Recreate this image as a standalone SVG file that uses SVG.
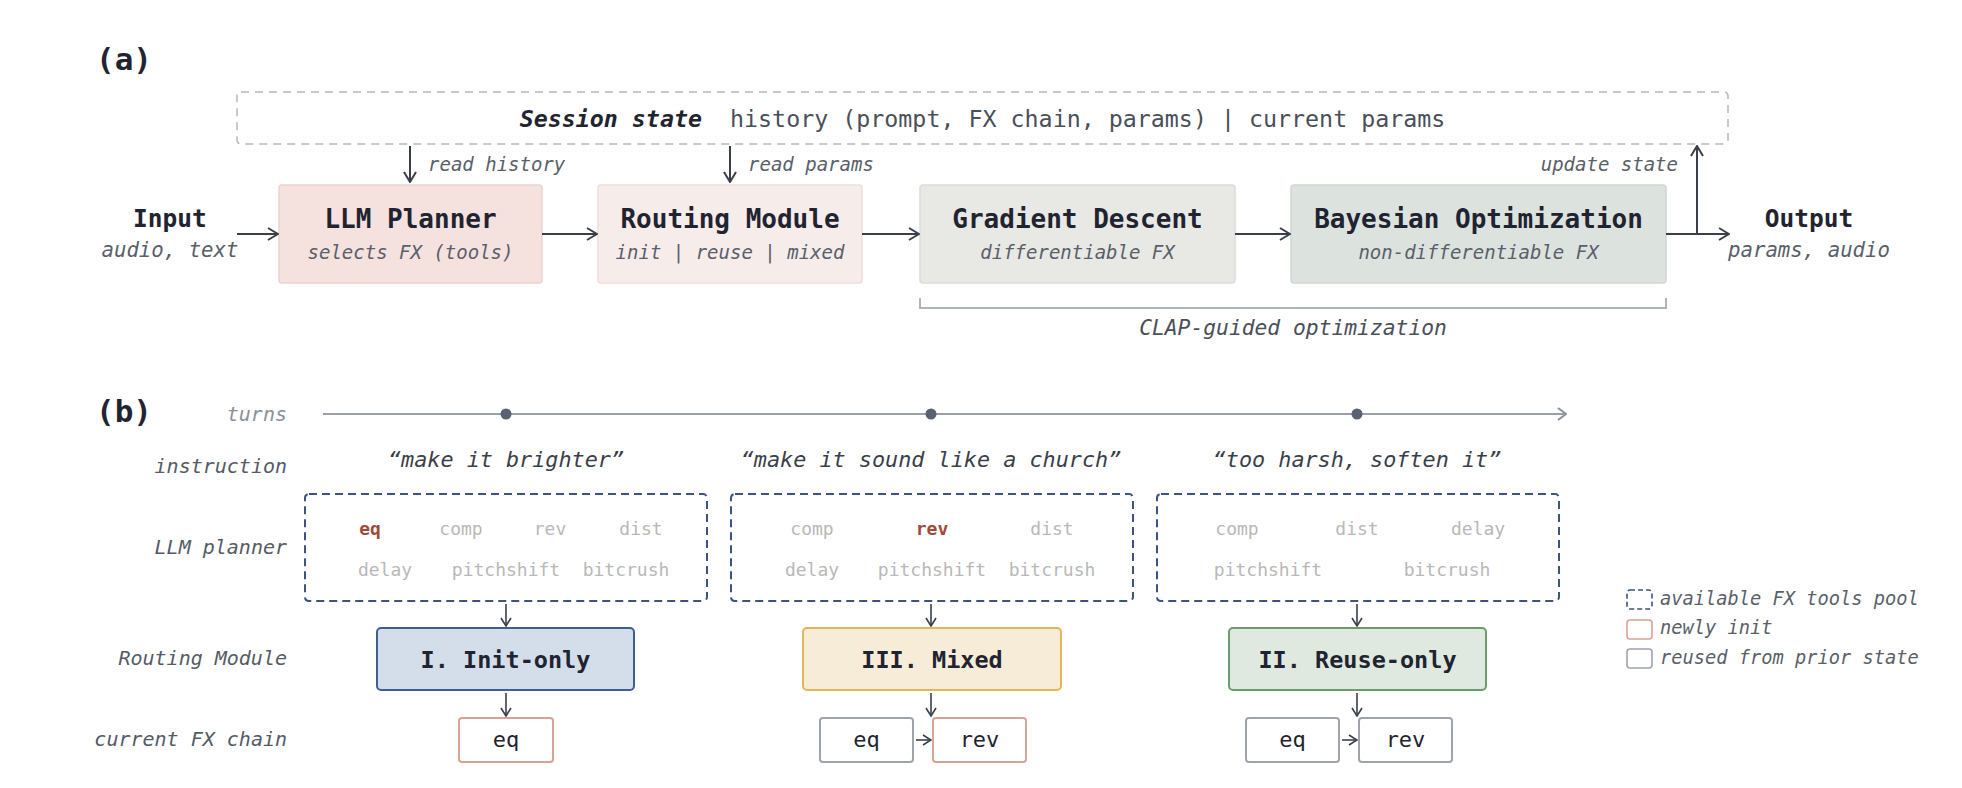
<svg xmlns="http://www.w3.org/2000/svg" width="1962" height="788" viewBox="0 0 1962 788">
<defs>
<style>
text{font-family:"DejaVu Sans Mono","Liberation Mono",monospace;}
.title{font-weight:bold;fill:#1f2430;}
.sub{font-style:italic;fill:#5a5f6a;}
.lbl{font-style:italic;fill:#555b66;font-size:20px;text-anchor:end;}
.conn{stroke:#3a3f4a;stroke-width:2;fill:none;}
.conns{stroke:#3a3f4a;stroke-width:1.6;fill:none;}
.tool{font-size:18px;fill:#b8b8b8;text-anchor:middle;}
.sel{font-size:18px;fill:#a04a3a;font-weight:bold;text-anchor:middle;}
.pool{fill:none;stroke:#3d5385;stroke-width:2;stroke-dasharray:8 5;}
.chain{fill:#fff;stroke-width:2;}
.newi{stroke:#d9a294;}
.reus{stroke:#9ea3ad;}
.ct{font-size:22px;fill:#1f2430;text-anchor:middle;}
.rt{font-size:23.5px;font-weight:bold;fill:#1f2430;text-anchor:middle;}
.panel{font-size:31px;font-weight:bold;fill:#1f2430;}
</style>
<marker id="ah" viewBox="0 0 12 14" refX="11" refY="7" markerWidth="12" markerHeight="14" markerUnits="userSpaceOnUse" orient="auto">
<path d="M1,1 L11,7 L1,13" fill="none" stroke="#3a3f4a" stroke-width="2"/>
</marker>
<marker id="ahs" viewBox="0 0 10 12" refX="9" refY="6" markerWidth="10" markerHeight="12" markerUnits="userSpaceOnUse" orient="auto">
<path d="M1,1 L9,6 L1,11" fill="none" stroke="#3a3f4a" stroke-width="1.6"/>
</marker>
<marker id="aht" viewBox="0 0 10 14" refX="9" refY="7" markerWidth="10" markerHeight="14" markerUnits="userSpaceOnUse" orient="auto">
<path d="M1,1 L9,7 L1,13" fill="none" stroke="#8a909c" stroke-width="2"/>
</marker>
</defs>
<rect width="1962" height="788" fill="#ffffff"/>

<!-- (a) -->
<text x="96" y="70" class="panel">(a)</text>

<g id="session">
<rect x="237" y="92" width="1491" height="52" rx="4" fill="none" stroke="#b8b8b8" stroke-width="1.5" stroke-dasharray="8 6"/>
<text x="982.5" y="127" font-size="23.3" text-anchor="middle" fill="#4a4f5a" xml:space="preserve"><tspan font-weight="bold" font-style="italic" fill="#1f2430">Session state</tspan>  history (prompt, FX chain, params) | current params</text>
</g>

<g id="input">
<text x="170" y="227" font-size="24.5" class="title" text-anchor="middle">Input</text>
<text x="170" y="257" font-size="20.7" class="sub" text-anchor="middle">audio, text</text>
</g>

<g id="llm-planner">
<rect x="279" y="185" width="263" height="98" rx="3" fill="#f5e2df" stroke="#ead3cf" stroke-width="1.5"/>
<text x="410.5" y="228" font-size="26" class="title" text-anchor="middle">LLM Planner</text>
<text x="410.5" y="259" font-size="19" class="sub" text-anchor="middle">selects FX (tools)</text>
</g>

<g id="routing-module">
<rect x="598" y="185" width="264" height="98" rx="3" fill="#f6ecea" stroke="#ebdfdc" stroke-width="1.5"/>
<text x="730" y="228" font-size="26" class="title" text-anchor="middle">Routing Module</text>
<text x="730" y="259" font-size="19" class="sub" text-anchor="middle">init | reuse | mixed</text>
</g>

<g id="gradient-descent">
<rect x="920" y="185" width="315" height="98" rx="3" fill="#e8e8e5" stroke="#dcdcd8" stroke-width="1.5"/>
<text x="1077.5" y="228" font-size="26" class="title" text-anchor="middle">Gradient Descent</text>
<text x="1077.5" y="259" font-size="19" class="sub" text-anchor="middle">differentiable FX</text>
</g>

<g id="bayesian-optimization">
<rect x="1291" y="185" width="375" height="98" rx="3" fill="#dce3de" stroke="#cfd8d2" stroke-width="1.5"/>
<text x="1478.5" y="228" font-size="26" class="title" text-anchor="middle">Bayesian Optimization</text>
<text x="1478.5" y="259" font-size="19" class="sub" text-anchor="middle">non-differentiable FX</text>
</g>

<g id="output">
<text x="1809" y="227" font-size="24.5" class="title" text-anchor="middle">Output</text>
<text x="1809" y="257" font-size="20.7" class="sub" text-anchor="middle">params, audio</text>
</g>

<g id="clap-bracket">
<path d="M920,298 V308 H1666 V298" fill="none" stroke="#b0b4bc" stroke-width="2"/>
<text x="1293" y="335" font-size="21.3" class="sub" text-anchor="middle" style="fill:#4a4f5a">CLAP-guided optimization</text>
</g>

<g id="connectors-a">
<line x1="237" y1="234" x2="278" y2="234" class="conn" marker-end="url(#ah)"/>
<line x1="542" y1="234" x2="597" y2="234" class="conn" marker-end="url(#ah)"/>
<line x1="862" y1="234" x2="919" y2="234" class="conn" marker-end="url(#ah)"/>
<line x1="1235" y1="234" x2="1290" y2="234" class="conn" marker-end="url(#ah)"/>
<line x1="1666" y1="234" x2="1729" y2="234" class="conn" marker-end="url(#ah)"/>
<line x1="1697" y1="234" x2="1697" y2="146" class="conn" marker-end="url(#ah)"/>
<line x1="410" y1="146" x2="410" y2="182" class="conn" marker-end="url(#ah)"/>
<line x1="730" y1="146" x2="730" y2="182" class="conn" marker-end="url(#ah)"/>
<text x="428" y="171" font-size="19" class="sub">read history</text>
<text x="748" y="171" font-size="19" class="sub">read params</text>
<text x="1678" y="171" font-size="19" class="sub" text-anchor="end">update state</text>
</g>

<!-- (b) -->
<text x="96" y="422" class="panel">(b)</text>
<g id="row-labels">
<text x="287" y="421" class="lbl" style="fill:#8a909c">turns</text>
<text x="287" y="473" class="lbl">instruction</text>
<text x="287" y="554" class="lbl">LLM planner</text>
<text x="287" y="665" class="lbl">Routing Module</text>
<text x="287" y="746" class="lbl">current FX chain</text>
</g>

<g id="timeline">
<line x1="323" y1="414" x2="1566" y2="414" stroke="#9aa0aa" stroke-width="2" marker-end="url(#aht)"/>
<circle cx="506" cy="414" r="5.5" fill="#5a6170"/>
<circle cx="931" cy="414" r="5.5" fill="#5a6170"/>
<circle cx="1357" cy="414" r="5.5" fill="#5a6170"/>
</g>

<g id="turn-1">
<text x="506" y="467" font-size="21.8" class="sub" style="fill:#3a3f4a" text-anchor="middle">“make it brighter”</text>
<rect x="305" y="494" width="402" height="107" rx="4" class="pool"/>
<text x="370" y="535" class="sel">eq</text>
<text x="461" y="535" class="tool">comp</text>
<text x="550" y="535" class="tool">rev</text>
<text x="641" y="535" class="tool">dist</text>
<text x="385" y="576" class="tool">delay</text>
<text x="506" y="576" class="tool">pitchshift</text>
<text x="626" y="576" class="tool">bitcrush</text>
<rect x="377" y="628" width="257" height="62" rx="4" fill="#d4deea" stroke="#3e5f96" stroke-width="2"/>
<text x="505.5" y="668" class="rt">I. Init-only</text>
<rect x="459" y="718" width="94" height="44" rx="3" class="chain newi"/>
<text x="506" y="747" class="ct">eq</text>
</g>

<g id="turn-2">
<text x="931" y="467" font-size="21.8" class="sub" style="fill:#3a3f4a" text-anchor="middle">“make it sound like a church”</text>
<rect x="731" y="494" width="402" height="107" rx="4" class="pool"/>
<text x="812" y="535" class="tool">comp</text>
<text x="932" y="535" class="sel">rev</text>
<text x="1052" y="535" class="tool">dist</text>
<text x="812" y="576" class="tool">delay</text>
<text x="932" y="576" class="tool">pitchshift</text>
<text x="1052" y="576" class="tool">bitcrush</text>
<rect x="803" y="628" width="258" height="62" rx="4" fill="#f7ecd7" stroke="#e2b65c" stroke-width="2"/>
<text x="932" y="668" class="rt">III. Mixed</text>
<rect x="820" y="718" width="93" height="44" rx="3" class="chain reus"/>
<text x="866.5" y="747" class="ct">eq</text>
<rect x="933" y="718" width="93" height="44" rx="3" class="chain newi"/>
<text x="979.5" y="747" class="ct">rev</text>
</g>

<g id="turn-3">
<text x="1357" y="467" font-size="21.8" class="sub" style="fill:#3a3f4a" text-anchor="middle">“too harsh, soften it”</text>
<rect x="1157" y="494" width="402" height="107" rx="4" class="pool"/>
<text x="1237" y="535" class="tool">comp</text>
<text x="1357" y="535" class="tool">dist</text>
<text x="1478" y="535" class="tool">delay</text>
<text x="1268" y="576" class="tool">pitchshift</text>
<text x="1447" y="576" class="tool">bitcrush</text>
<rect x="1229" y="628" width="257" height="62" rx="4" fill="#dfe9df" stroke="#6c9c6c" stroke-width="2"/>
<text x="1357.5" y="668" class="rt">II. Reuse-only</text>
<rect x="1246" y="718" width="93" height="44" rx="3" class="chain reus"/>
<text x="1292.5" y="747" class="ct">eq</text>
<rect x="1359" y="718" width="93" height="44" rx="3" class="chain reus"/>
<text x="1405.5" y="747" class="ct">rev</text>
</g>

<g id="connectors-b">
<line x1="506" y1="604" x2="506" y2="626" class="conns" marker-end="url(#ahs)"/>
<line x1="506" y1="693" x2="506" y2="716" class="conns" marker-end="url(#ahs)"/>
<line x1="931" y1="604" x2="931" y2="626" class="conns" marker-end="url(#ahs)"/>
<line x1="931" y1="693" x2="931" y2="716" class="conns" marker-end="url(#ahs)"/>
<line x1="916" y1="740" x2="931" y2="740" class="conns" marker-end="url(#ahs)"/>
<line x1="1357" y1="604" x2="1357" y2="626" class="conns" marker-end="url(#ahs)"/>
<line x1="1357" y1="693" x2="1357" y2="716" class="conns" marker-end="url(#ahs)"/>
<line x1="1342" y1="740" x2="1357" y2="740" class="conns" marker-end="url(#ahs)"/>
</g>

<g id="legend">
<rect x="1627" y="590" width="25" height="19" rx="3" fill="none" stroke="#3d5385" stroke-width="1.6" stroke-dasharray="5 3"/>
<text x="1660" y="605" font-size="18.7" class="sub">available FX tools pool</text>
<rect x="1627" y="620" width="25" height="19" rx="3" fill="none" stroke="#d9a294" stroke-width="1.6"/>
<text x="1660" y="634" font-size="18.7" class="sub">newly init</text>
<rect x="1627" y="649" width="25" height="19" rx="3" fill="none" stroke="#9ea3ad" stroke-width="1.6"/>
<text x="1660" y="664" font-size="18.7" class="sub">reused from prior state</text>
</g>
</svg>
